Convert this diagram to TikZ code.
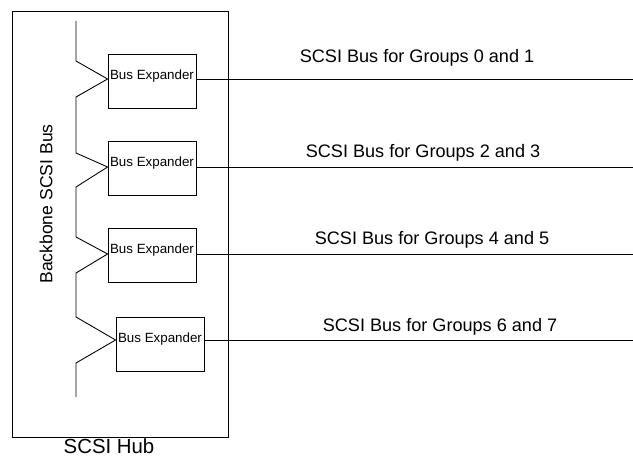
\documentclass[tikz,border=0pt]{standalone}
\usepackage{fontspec}
\setmainfont{Liberation Sans}
\usepackage{tikz}

\tikzset{
  expander/.style={draw, anchor=north, minimum width=1.76cm, inner xsep=0pt, inner ysep=0pt,
    text height=14pt, text depth=16.6pt, font=\fontsize{7.6}{9}\selectfont},
  buslabel/.style={font=\fontsize{10.3}{12}\selectfont}
}

\begin{document}
\begin{tikzpicture}[x=0.02cm, y=-0.02cm, line width=0.5pt]
    \useasboundingbox (0,0) rectangle (633,456);
    % the hub and its labels
    \node[draw, anchor=north west, minimum width=4.32cm, minimum height=8.52cm, inner sep=0pt] (hub) at (12,11) {};
    \node[font=\fontsize{11.6}{14}\selectfont] (hublabel) at (109,446) {SCSI Hub};
    \node[rotate=90, font=\fontsize{10}{12}\selectfont] (backbone) at (46,204) {Backbone SCSI Bus};

    % expanders
    \node[expander] (ex1) at (152,54) {Bus Expander};
    \node[expander] (ex2) at (152,141) {Bus Expander};
    \node[expander] (ex3) at (152,228) {Bus Expander};
    \node[expander] (ex4) at (160,317) {Bus Expander};

    % where the backbone touches each expander
    \coordinate (t1) at ([yshift=-0.5cm]ex1.north west);
    \coordinate (t2) at ([yshift=-0.52cm]ex2.north west);
    \coordinate (t3) at ([yshift=-0.52cm]ex3.north west);
    \coordinate (t4) at ([yshift=-0.46cm]ex4.north west);
    \coordinate (bustop) at (76,21);
    \coordinate (busend) at (76,397);
    \coordinate (far) at (633,0);

    % backbone bus
    \draw (bustop) -- (76,61) -- (t1) -- (76,97) -- (76,153) -- (t2) -- (76,187)
        -- (76,237) -- (t3) -- (76,273) -- (76,317) -- (t4) -- (76,363) -- (busend);

    % outgoing buses
    \draw (ex1.east |- t1) -- (far |- t1);
    \draw (ex2.east |- t2) -- (far |- t2);
    \draw (ex3.east |- t3) -- (far |- t3);
    \draw (ex4.east |- t4) -- (far |- t4);
    \node[buslabel] (g01) at (417,58) {SCSI Bus for Groups 0 and 1};
    \node[buslabel] (g23) at (423,153) {SCSI Bus for Groups 2 and 3};
    \node[buslabel] (g45) at (432,240) {SCSI Bus for Groups 4 and 5};
    \node[buslabel] (g67) at (440,327) {SCSI Bus for Groups 6 and 7};
\end{tikzpicture}
\end{document}
